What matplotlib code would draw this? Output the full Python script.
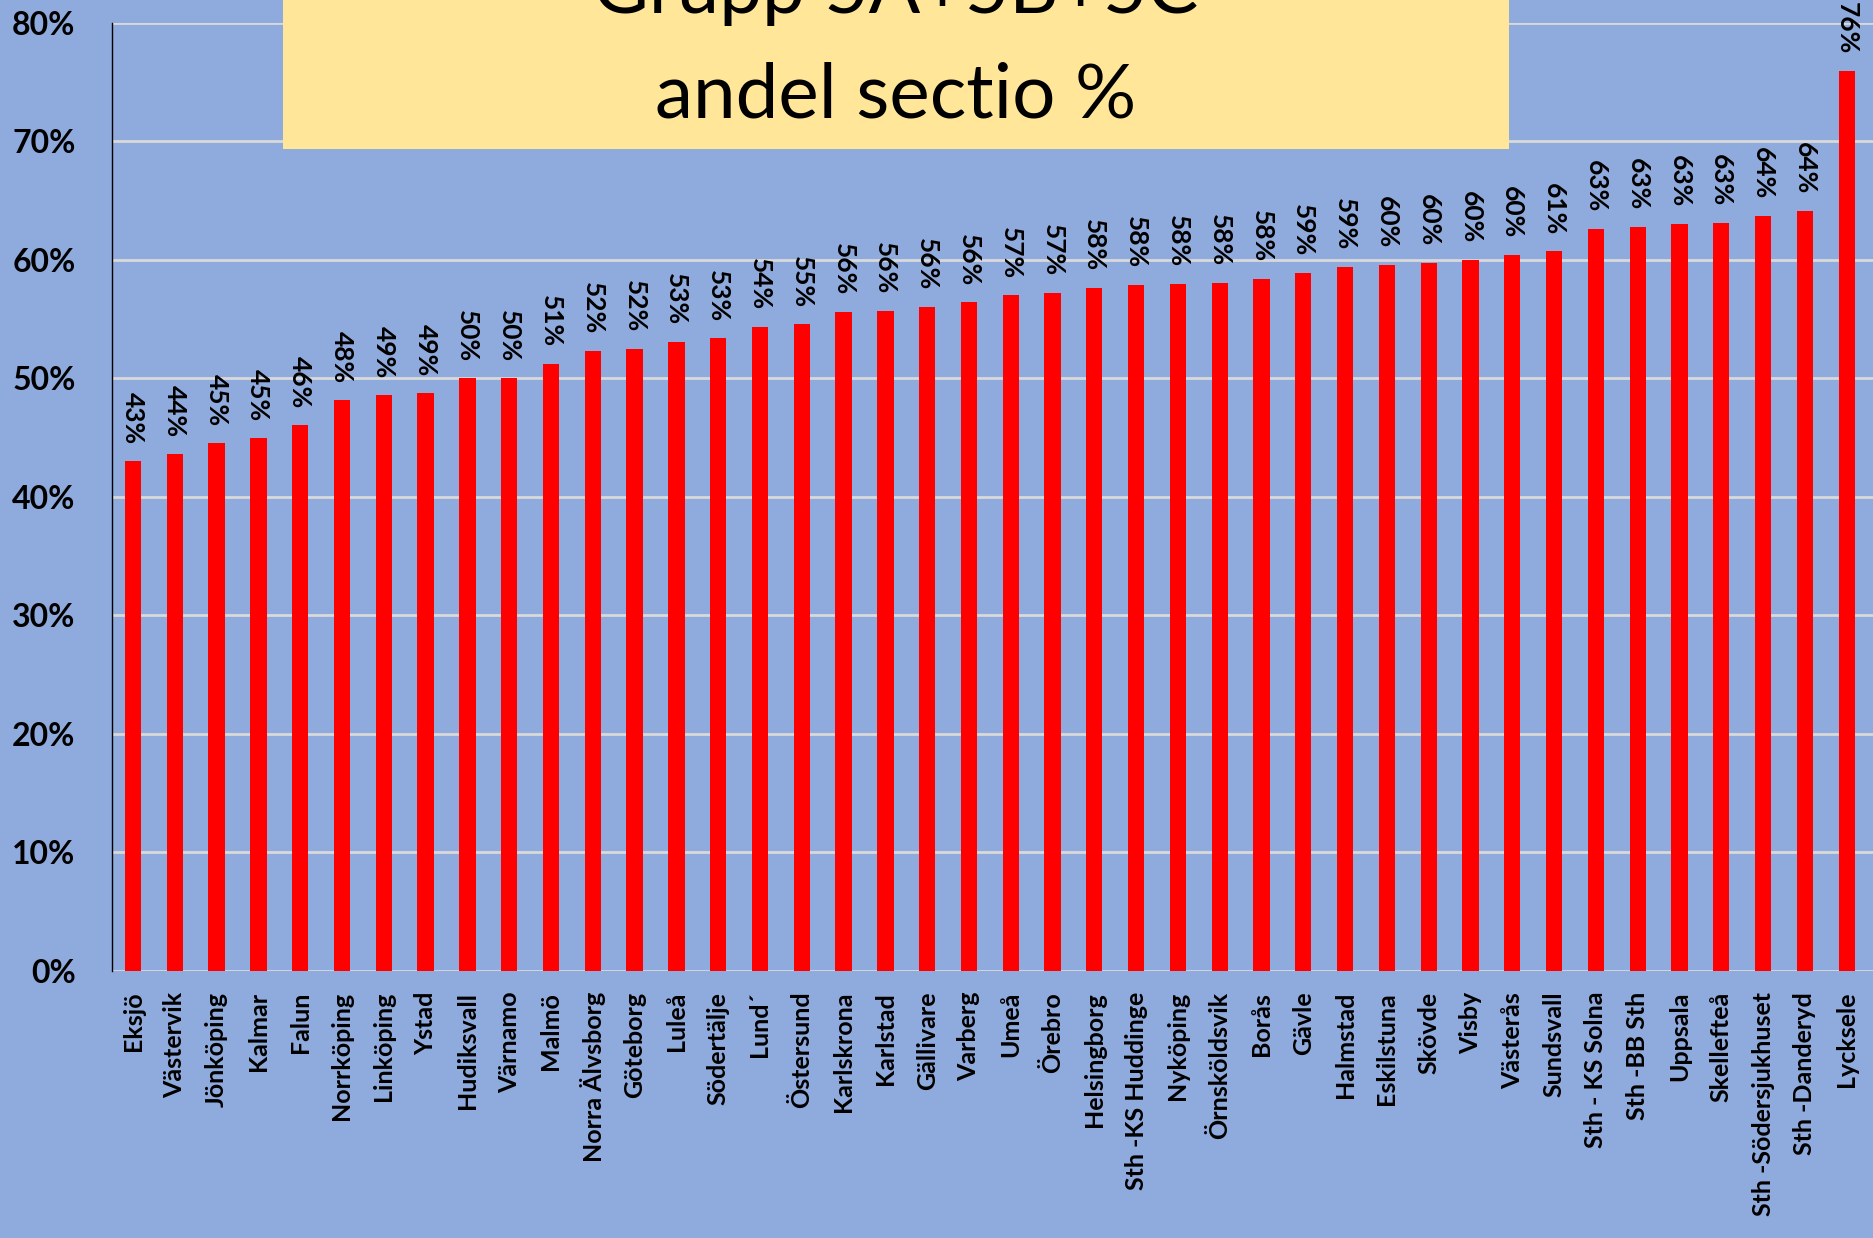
import matplotlib.pyplot as plt
from matplotlib.patches import Rectangle
from matplotlib.ticker import FuncFormatter

# andel sectio (%) per förlossningsklinik, grupp 5A+5B+5C
clinics = ["Eksjö", "Västervik", "Jönköping", "Kalmar", "Falun", "Norrköping",
           "Linköping", "Ystad", "Hudiksvall", "Värnamo", "Malmö", "Norra Älvsborg",
           "Göteborg", "Luleå", "Södertälje", "Lund´", "Östersund", "Karlskrona",
           "Karlstad", "Gällivare", "Varberg", "Umeå", "Örebro", "Helsingborg",
           "Sth -KS Huddinge", "Nyköping", "Örnsköldsvik", "Borås", "Gävle",
           "Halmstad", "Eskilstuna", "Skövde", "Visby", "Västerås", "Sundsvall",
           "Sth - KS Solna", "Sth -BB Sth", "Uppsala", "Skellefteå",
           "Sth -Södersjukhuset", "Sth -Danderyd", "Lycksele"]
sectio_pct = [43.0, 43.6, 44.55, 44.97, 46.1, 48.2,
              48.6, 48.8, 50.0, 50.0, 51.2, 52.3,
              52.45, 53.05, 53.36, 54.34, 54.55, 55.6,
              55.7, 56.05, 56.4, 57.0, 57.2, 57.6,
              57.9, 57.96, 58.07, 58.4, 58.9,
              59.4, 59.6, 59.7, 60.0, 60.4, 60.7,
              62.6, 62.8, 63.0, 63.1,
              63.7, 64.1, 75.9]
y_ticks = [0, 10, 20, 30, 40, 50, 60, 70, 80]

bg = "#8FAADC"
W, H = 1873, 1238

fig = plt.figure(figsize=(W / 100, H / 100), dpi=100, facecolor=bg)
ax = fig.add_axes([111.7 / W, 1 - 971 / H, 1 - 111.7 / W, (971 - 22.7) / H])
ax.set_facecolor(bg)

x = list(range(len(clinics)))
bars = ax.bar(x, sectio_pct, width=0.39, color="#FF0000", zorder=3)
ax.bar_label(bars, labels=[f"{v:.0f}%" for v in sectio_pct], rotation=-90,
             padding=12, fontsize=19, family="Lato", fontweight="bold",
             color="black")

ax.set_xlim(-0.51, 41.63)
ax.set_ylim(0, 80)
ax.set_yticks(y_ticks)
ax.yaxis.set_major_formatter(FuncFormatter(lambda v, p: f"{v:.0f}%"))
ax.set_xticks(x)
ax.set_xticklabels(clinics, rotation=90, fontsize=18, family="Lato",
                   fontweight="bold", va="top", ha="center")
for lab in ax.get_yticklabels():
    lab.set_fontsize(23)
    lab.set_family("Lato")
    lab.set_fontweight("bold")
ax.tick_params(axis="y", length=0, pad=26)
ax.tick_params(axis="x", length=0, pad=15)
ax.grid(axis="y", color="#D9D9D9", linewidth=2, zorder=0)
for s in ["top", "right", "bottom"]:
    ax.spines[s].set_visible(False)
ax.spines["left"].set_color("black")
ax.spines["left"].set_linewidth(1)

# title box
fig.patches.append(Rectangle((283 / W, 1 - 149 / H), (1509 - 283) / W, 149 / H + 0.01,
                             transform=fig.transFigure, facecolor="#FFE699",
                             edgecolor="none", zorder=5))
fig.text(896 / W, 1 - 13 / H, "Grupp 5A+5B+5C", ha="center", va="baseline",
         fontsize=55, family="Lato", zorder=6)
fig.text(896 / W, 1 - 117 / H, "andel sectio %", ha="center", va="baseline",
         fontsize=55, family="Lato", zorder=6)

fig.savefig("out.png", dpi=100, facecolor=bg)
